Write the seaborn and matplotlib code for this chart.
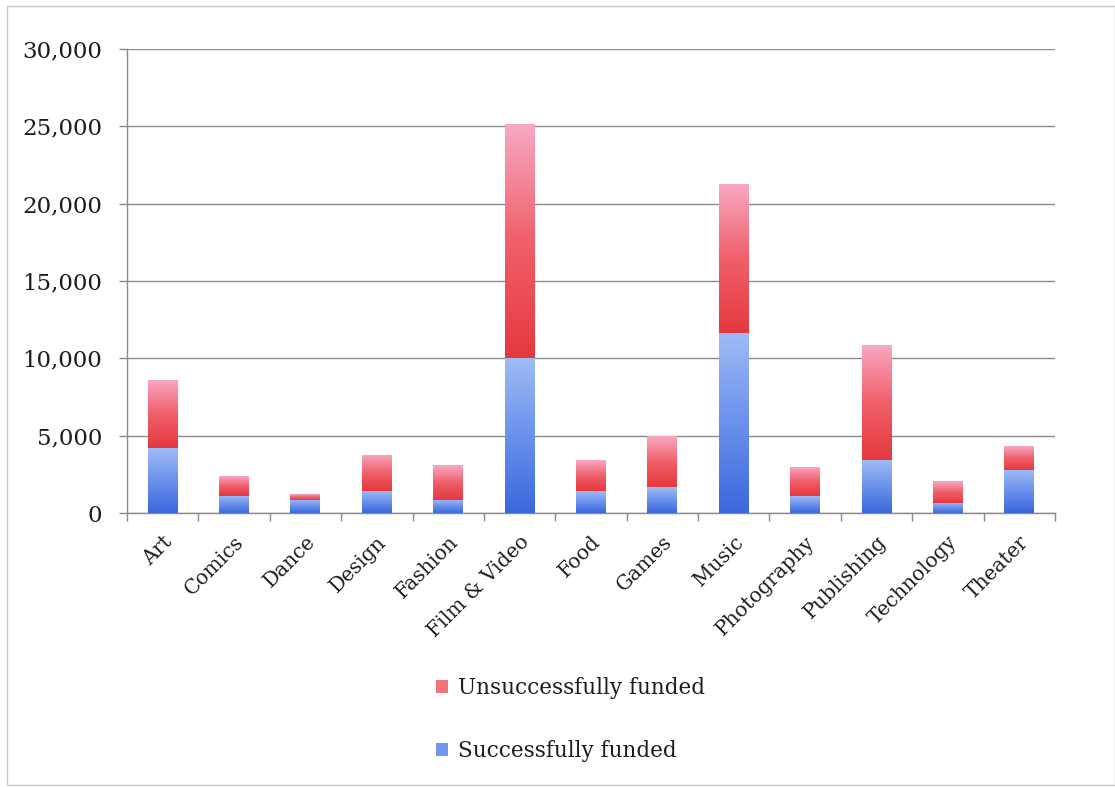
import numpy as np
import pandas as pd
import matplotlib
matplotlib.use("Agg")
import matplotlib.pyplot as plt
import matplotlib.transforms as mtransforms
from matplotlib.patches import Patch, Rectangle
from matplotlib.colors import LinearSegmentedColormap
import seaborn as sns

categories = ["Art", "Comics", "Dance", "Design", "Fashion", "Film & Video", "Food",
              "Games", "Music", "Photography", "Publishing", "Technology", "Theater"]
successful = [4200, 1120, 860, 1440, 860, 10000, 1400, 1680, 11650, 1070, 3400, 650, 2800]
unsuccessful = [4400, 1250, 340, 2330, 2240, 15150, 2000, 3270, 9650, 1900, 7460, 1420, 1550]
y_ticks = [0, 5000, 10000, 15000, 20000, 25000, 30000]
legend_labels = ["Unsuccessfully funded", "Successfully funded"]

df = pd.DataFrame({"category": categories, "successful": successful,
                   "unsuccessful": unsuccessful})
df["total"] = df["successful"] + df["unsuccessful"]

sns.set_theme(style="white")
plt.rcParams["font.family"] = ["DejaVu Serif"]

W, H = 1115, 787
fig = plt.figure(figsize=(W / 100, H / 100), dpi=100)
ax = fig.add_axes([127 / W, 1 - 513 / H, (1055 - 127) / W, (513 - 49) / H])

# total (red) then successful (blue) overlaid -> stacked look
sns.barplot(data=df, x="category", y="total", color="#f06a70", width=0.42,
            ax=ax, saturation=1, zorder=3)
n_red = len(ax.patches)
sns.barplot(data=df, x="category", y="successful", color="#6f90ea", width=0.42,
            ax=ax, saturation=1, zorder=4)
red_patches = ax.patches[:n_red]
blue_patches = ax.patches[n_red:]

ax.set_ylim(0, 30000)
ax.set_xlim(-0.5, len(categories) - 0.5)
xl, yl = ax.get_xlim(), ax.get_ylim()

red_cmap = LinearSegmentedColormap.from_list("r", ["#e5383f", "#f0606a", "#f9a9c4"])
blue_cmap = LinearSegmentedColormap.from_list("b", ["#3a68dc", "#6a91ec", "#9fbcf5"])
grad = np.linspace(0, 1, 256).reshape(-1, 1)

for rp, bp in zip(red_patches, blue_patches):
    x0, y0 = bp.get_x(), bp.get_y()
    w, h = bp.get_width(), bp.get_height()
    im = ax.imshow(grad, extent=[x0, x0 + w, y0, y0 + h], origin="lower",
                   aspect="auto", cmap=blue_cmap, zorder=4.5, interpolation="bicubic")
    im.set_clip_path(bp)
    bp.set_facecolor("none")
    bp.set_edgecolor("none")
    rx0, ry1 = rp.get_x(), rp.get_y() + rp.get_height()
    im2 = ax.imshow(grad, extent=[rx0, rx0 + rp.get_width(), y0 + h, ry1], origin="lower",
                    aspect="auto", cmap=red_cmap, zorder=3.5, interpolation="bicubic")
    im2.set_clip_path(rp)
    rp.set_facecolor("none")
    rp.set_edgecolor("none")

ax.set_xlim(xl)
ax.set_ylim(yl)

txt_color = "#1c1c1c"
ax.set_yticks(y_ticks)
ax.set_yticklabels([f"{v:,}" for v in y_ticks], fontsize=16.5, color=txt_color)
ax.yaxis.grid(True, color="#8a8a8a", linewidth=1.0, zorder=1)
ax.set_axisbelow(True)
ax.tick_params(axis="y", which="major", direction="out", length=6, width=1,
               color="#8a8a8a", pad=12, left=True)

ax.set_xticks(range(len(categories)))
ax.set_xticklabels(categories, rotation=45, ha="right", rotation_mode="anchor",
                   fontsize=14.5, color=txt_color)
ax.tick_params(axis="x", which="major", length=0, pad=14)
ax.set_xticks(np.arange(-0.5, len(categories), 1), minor=True)
ax.tick_params(axis="x", which="minor", direction="out", length=6, width=1,
               color="#8a8a8a", bottom=True)
offset = mtransforms.ScaledTranslation(0 / 100, 0, fig.dpi_scale_trans)
for lab in ax.get_xticklabels():
    lab.set_transform(lab.get_transform() + offset)

ax.set_xlabel("")
ax.set_ylabel("")
for s in ["top", "right"]:
    ax.spines[s].set_visible(False)
for s in ["left", "bottom"]:
    ax.spines[s].set_color("#8a8a8a")
    ax.spines[s].set_linewidth(1.0)

handles = [Patch(facecolor="#f3737a", edgecolor="none"),
           Patch(facecolor="#7196ec", edgecolor="none")]
fig.legend(handles, legend_labels, loc="upper left",
           bbox_to_anchor=(417 / W, 1 - 658 / H), frameon=False,
           fontsize=15.5, handlelength=0.55, handleheight=0.55,
           handletextpad=0.45, labelspacing=1.9, labelcolor=txt_color)

fig.patches.append(Rectangle((7 / W, 2 / H), 1 - 7 / W, 1 - 8 / H,
                             transform=fig.transFigure, fill=False,
                             edgecolor="#c8c8c8", linewidth=1.0))

fig.savefig("out.png", dpi=100, facecolor="white")
